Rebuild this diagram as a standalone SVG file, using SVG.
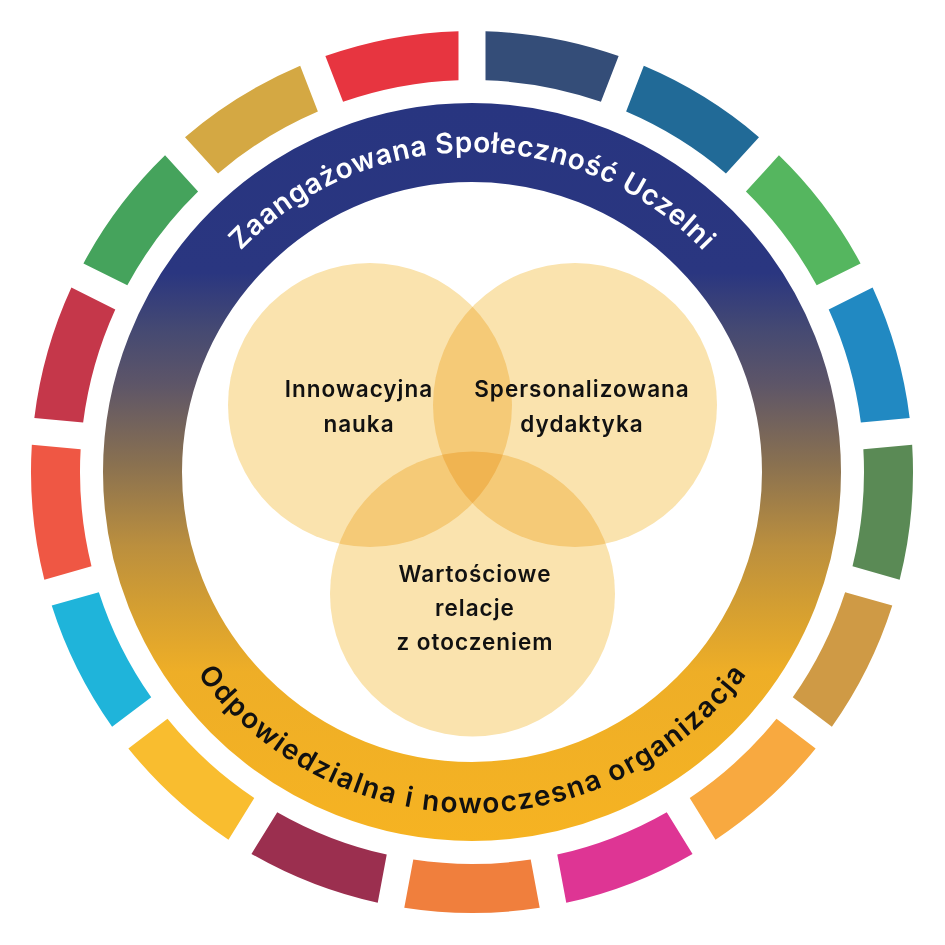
<svg xmlns="http://www.w3.org/2000/svg" xmlns:xlink="http://www.w3.org/1999/xlink" width="945" height="945" viewBox="0 0 945 945">
  <style>
    .ringtxt { font-family: Inter, "Noto Sans", "DejaVu Sans", sans-serif; font-weight: 600; font-size: 28px; }
    .lbl { font-family: Inter, "Noto Sans", "DejaVu Sans", sans-serif; font-weight: 600; font-size: 22.5px; letter-spacing: 1px; fill: #111111; text-anchor: middle; }
    .venn { fill: #FAE3AE; mix-blend-mode: multiply; }
  </style>
  <defs>
    <path id="seg" d="M 404.28,36.23 A 441 441 0 0 1 539.72,36.23 L 530.71,84.42 A 392 392 0 0 0 413.29,84.42 Z"/>
    <linearGradient id="ringGrad" gradientUnits="userSpaceOnUse" x1="0" y1="103" x2="0" y2="841">
      <stop offset="0" stop-color="#283580"/>
      <stop offset="0.23" stop-color="#2A3680"/>
      <stop offset="0.31" stop-color="#464A72"/>
      <stop offset="0.38" stop-color="#5D5568"/>
      <stop offset="0.49" stop-color="#8A7150"/>
      <stop offset="0.60" stop-color="#BB8F3E"/>
      <stop offset="0.68" stop-color="#D39E32"/>
      <stop offset="0.77" stop-color="#EEAE27"/>
      <stop offset="1" stop-color="#F6B322"/>
    </linearGradient>
    <path id="topArc" d="M 152,472 A 320 320 0 0 1 792,472"/>
    <path id="botArc" d="M 131,472 A 341 341 0 0 0 813,472"/>
  </defs>

  <rect width="945" height="945" fill="#FFFFFF"/>

  <g id="outer-segments">
    <use href="#seg" fill="#344D78" transform="rotate(10.588 472 472)"/>
    <use href="#seg" fill="#216A97" transform="rotate(31.765 472 472)"/>
    <use href="#seg" fill="#55B65F" transform="rotate(52.941 472 472)"/>
    <use href="#seg" fill="#2189C2" transform="rotate(74.118 472 472)"/>
    <use href="#seg" fill="#5A8A55" transform="rotate(95.294 472 472)"/>
    <use href="#seg" fill="#CF9A45" transform="rotate(116.471 472 472)"/>
    <use href="#seg" fill="#F8A940" transform="rotate(137.647 472 472)"/>
    <use href="#seg" fill="#DE3594" transform="rotate(158.824 472 472)"/>
    <use href="#seg" fill="#F07F3D" transform="rotate(180 472 472)"/>
    <use href="#seg" fill="#9B2F4F" transform="rotate(201.176 472 472)"/>
    <use href="#seg" fill="#F9BD2F" transform="rotate(222.353 472 472)"/>
    <use href="#seg" fill="#1FB4DA" transform="rotate(243.529 472 472)"/>
    <use href="#seg" fill="#EF5744" transform="rotate(264.706 472 472)"/>
    <use href="#seg" fill="#C5374A" transform="rotate(285.882 472 472)"/>
    <use href="#seg" fill="#45A35C" transform="rotate(307.059 472 472)"/>
    <use href="#seg" fill="#D4A843" transform="rotate(328.235 472 472)"/>
    <use href="#seg" fill="#E73540" transform="rotate(349.412 472 472)"/>
  </g>

  <g id="gradient-ring">
    <circle cx="472" cy="472" r="329.5" fill="none" stroke="url(#ringGrad)" stroke-width="79"/>
    <text class="ringtxt" fill="#FFFFFF"><textPath href="#topArc" startOffset="50%" text-anchor="middle" textLength="517" lengthAdjust="spacing">Zaangażowana Społeczność Uczelni</textPath></text>
    <text class="ringtxt" fill="#111111"><textPath href="#botArc" startOffset="50%" text-anchor="middle" textLength="638" lengthAdjust="spacing">Odpowiedzialna i nowoczesna organizacja</textPath></text>
  </g>

  <g id="venn" style="isolation:isolate">
    <g id="node-nauka">
      <circle class="venn" cx="370" cy="405" r="142"/>
      <text class="lbl" x="359" y="397">Innowacyjna</text>
      <text class="lbl" x="359" y="432">nauka</text>
    </g>
    <g id="node-dydaktyka">
      <circle class="venn" cx="575" cy="405" r="142"/>
      <text class="lbl" x="582" y="397">Spersonalizowana</text>
      <text class="lbl" x="582" y="432">dydaktyka</text>
    </g>
    <g id="node-relacje">
      <circle class="venn" cx="472.5" cy="594" r="142.5"/>
      <text class="lbl" x="475" y="582">Wartościowe</text>
      <text class="lbl" x="475" y="616">relacje</text>
      <text class="lbl" x="475" y="650">z otoczeniem</text>
    </g>
  </g>
  <g id="connectors"/>
</svg>
